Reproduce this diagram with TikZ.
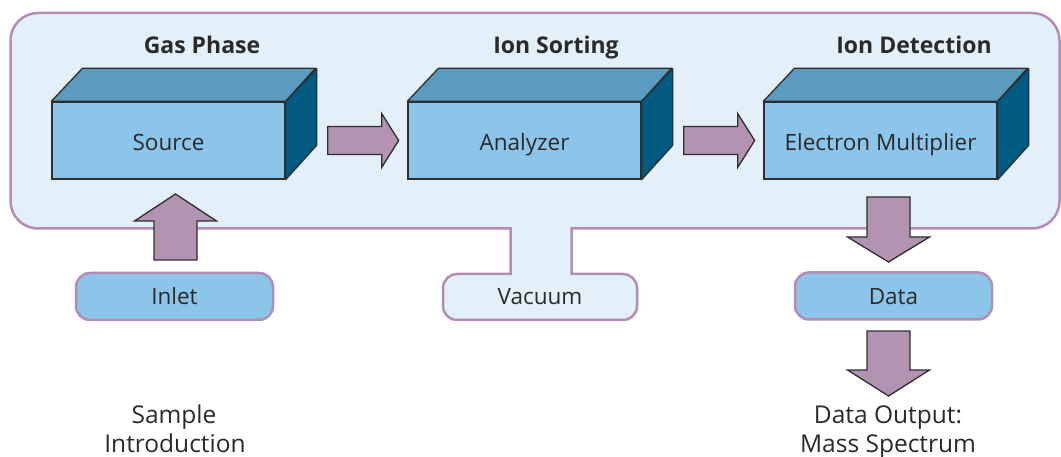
\documentclass[tikz,border=0pt]{standalone}
\usepackage{fontspec}
\setmainfont{Open Sans}
\newfontfamily\headfont{Open Sans}[FakeBold=0.6]
\definecolor{panelfill}{HTML}{E4F0F9}
\definecolor{panelline}{HTML}{B38DB4}
\definecolor{facefront}{HTML}{8CC4EA}
\definecolor{facetop}{HTML}{5B9BBF}
\definecolor{faceside}{HTML}{005A82}
\definecolor{arrowfill}{HTML}{B393B2}
\definecolor{inktext}{HTML}{2A2A2A}
\definecolor{edgeline}{HTML}{2E2E2E}
\tikzset{
  lbl/.style={font=\fontsize{22.5}{27}\selectfont, text=inktext, inner sep=0pt},
  caption/.style={font=\fontsize{24.5}{29}\selectfont, text=inktext, inner sep=0pt},
  head/.style={font=\fontsize{23}{27}\selectfont\bfseries, text=inktext, inner sep=0pt},
  front/.style={draw=edgeline, line width=1.3pt, fill=facefront, minimum width=233pt, minimum height=77pt, inner sep=0pt},
  topface/.style={draw=edgeline, line width=1.3pt, fill=facetop, line join=round},
  sideface/.style={draw=edgeline, line width=1.3pt, fill=faceside, line join=round},
  pill/.style={draw=panelline, line width=2.5pt, fill=facefront, rounded corners=14pt, minimum width=197pt, minimum height=47pt, inner sep=0pt},
  blockarrow/.style={draw=edgeline, line width=1.3pt, fill=arrowfill, line join=miter},
}
% a box drawn as a prism: front face node plus top and side faces
\newcommand\prism[3]{%
  \node[front] (#1) at (#2) {};
  \draw[topface] (#1.north west) -- ++(31,33) -- ++(233,0) -- (#1.north east) -- cycle;
  \draw[sideface] (#1.north east) -- ++(31,33) -- ++(0,-77) -- (#1.south east) -- cycle;
  \node[lbl, anchor=base] (#1-txt) at ([yshift=-10.5pt]#1.center) {#3};
}
% horizontal block arrow starting at the tail of its shaft
\newcommand\harrow[1]{%
  \draw[blockarrow] (#1) ++(0,14) -- ++(54,0) -- ++(0,13) -- ++(17,-27) -- ++(-17,-27) -- ++(0,13) -- ++(-54,0) -- cycle;
}
% vertical block arrow: #1 = tail centre, #2 = shaft length, #3 = head length, #4 = +1 up / -1 down
\newcommand\varrow[4]{%
  \draw[blockarrow] (#1) ++(-21.5,0) -- ++(0,#4*#2) -- ++(-19.5,0) -- ++(41,#4*#3) -- ++(41,-#4*#3) -- ++(-19.5,0) -- ++(0,-#4*#2) -- cycle;
}
\begin{document}
\begin{tikzpicture}[x=1pt,y=1pt]
\useasboundingbox (0,0) rectangle (1061,-457);

% vacuum chamber outline with its stem down to the pump box
\draw[draw=panelline, fill=panelfill, line width=2.5pt, line join=miter]
  (38,-13) -- (1032,-13) arc[start angle=90,end angle=0,radius=27.5]
  -- (1059.5,-201) arc[start angle=0,end angle=-90,radius=27.5]
  -- (571.5,-228.5) -- (571.5,-274) -- (623,-274) arc[start angle=90,end angle=0,radius=14]
  -- (637,-306) arc[start angle=0,end angle=-90,radius=14]
  -- (457,-320) arc[start angle=270,end angle=180,radius=14]
  -- (443,-288) arc[start angle=180,end angle=90,radius=14]
  -- (510.5,-274) -- (510.5,-228.5)
  -- (38,-228.5) arc[start angle=270,end angle=180,radius=27.5]
  -- (10.5,-40.5) arc[start angle=180,end angle=90,radius=27.5] -- cycle;
\node[lbl, anchor=base] (vac) at (540,-305) {Vacuum};

% stage headings
\node[head, anchor=base] (h1) at (202,-54) {Gas Phase};
\node[head, anchor=base] (h2) at (556,-54) {Ion Sorting};
\node[head, anchor=base] (h3) at (914,-54) {Ion Detection};

% the three instrument stages
\prism{src}{168.5,-140.5}{Source}
\prism{ana}{524.5,-140.5}{Analyzer}
\prism{det}{880.5,-140.5}{Electron Multiplier}

% transfer arrows between stages
\coordinate (a1) at ([xshift=42pt]src.east);
\coordinate (a2) at ([xshift=42pt]ana.east);
\harrow{a1}
\harrow{a2}

% inlet and data boxes
\node[pill] (inlet) at (174.5,-296.5) {};
\node[lbl, anchor=base] (inlet-txt) at (174.5,-305) {Inlet};
\node[pill] (data) at (893.5,-296) {};
\node[lbl, anchor=base] (data-txt) at (893.5,-305) {Data};

\coordinate (inlet-tail) at (175.5,-260);
\varrow{inlet-tail}{39}{27}{1}
\coordinate (det-tail) at (888.5,-197);
\varrow{det-tail}{40}{25}{-1}
\coordinate (data-tail) at (888.5,-331);
\varrow{data-tail}{39}{26}{-1}

% captions below
\node[caption, anchor=base] (cap1a) at (174,-423) {Sample};
\node[caption, anchor=base] (cap1b) at (175,-452) {Introduction};
\node[caption, anchor=base] (cap2a) at (888,-423) {Data Output:};
\node[caption, anchor=base] (cap2b) at (888,-452) {Mass Spectrum};
\end{tikzpicture}
\end{document}
